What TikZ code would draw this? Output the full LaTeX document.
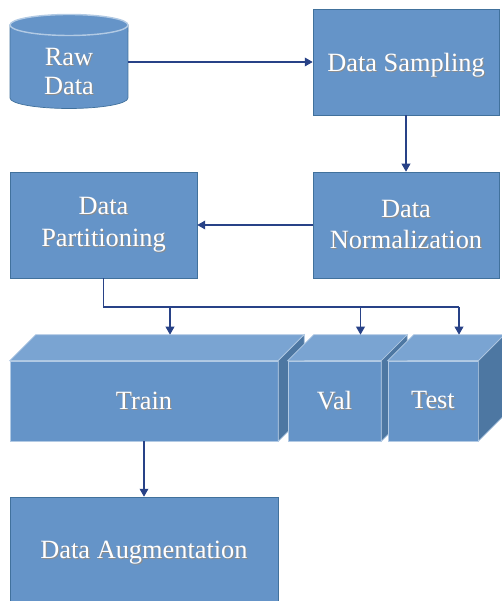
\documentclass[tikz,border=0pt]{standalone}
\usepackage{fontspec}
\setmainfont{Liberation Serif}
\usepackage{tikz}
\usetikzlibrary{arrows.meta, positioning}
\definecolor{boxblue}{RGB}{101,148,200}
\definecolor{boxedge}{RGB}{65,113,156}
\definecolor{topblue}{RGB}{122,164,210}
\definecolor{sideblue}{RGB}{77,119,162}
\definecolor{cubeedge}{RGB}{178,202,228}
\definecolor{arrowblue}{RGB}{40,66,135}
% white label text with a faint drop shadow
\newcommand\halo[1]{\leavevmode\rlap{\kern0.6pt\raisebox{-0.6pt}{\textcolor{black!45}{#1}}}#1}

\begin{document}
\begin{tikzpicture}[x=0.02cm, y=0.02cm,
  box/.style={draw=boxedge, fill=boxblue, text=white, align=center, inner sep=0pt,
              font=\fontsize{15}{18}\selectfont},
  flow/.style={arrowblue, line width=0.6pt, -{Triangle[length=4.5pt, width=5pt]}},
  link/.style={arrowblue, line width=0.6pt}]
  \useasboundingbox (0,0) rectangle (501,601);

  % raw data drum
  \filldraw[fill=boxblue, draw=boxedge] (10,576) -- (10,503)
    arc[start angle=180, end angle=360, x radius=1.18cm, y radius=0.21cm] -- (128,576) -- cycle;
  \filldraw[fill=boxblue, draw=cubeedge, line width=0.8pt] (69,576) ellipse [x radius=1.18cm, y radius=0.21cm];
  \node[box, draw=none, fill=none, minimum width=2.36cm, font=\fontsize{15}{16}\selectfont] (raw) at (69,529) {\halo{Raw}\\\halo{Data}};

  % processing steps
  \node[box, minimum width=3.72cm, minimum height=2.12cm, text depth=0pt] (samp) at (406,539) {\halo{Data Sampling}};
  \node[box, minimum width=3.72cm, minimum height=2.12cm] (norm) at (406,376) {\halo{Data}\\\halo{Normalization}};
  \node[box, minimum width=3.74cm, minimum height=2.12cm] (part) at (103.5,376) {\halo{Data}\\\halo{Partitioning}};

  % split blocks, each with top and side face
  \foreach \n/\t/\cx/\w in {train/Train/144/5.36cm, val/Val/334.5/1.86cm, test/Test/433/1.8cm} {
    \node[box, draw=cubeedge, minimum width=\w, minimum height=1.6cm] (\n) at (\cx,200) {\halo{\t}};
    \filldraw[fill=topblue, draw=cubeedge] (\n.north west) -- ++(26,26)
      -- ([shift={(26,26)}]\n.north east) -- (\n.north east) -- cycle;
    \filldraw[fill=sideblue, draw=cubeedge] (\n.north east) -- ++(26,26)
      -- ([shift={(26,26)}]\n.south east) -- (\n.south east) -- cycle;
    \coordinate (\n-top) at ([shift={(26,26)}]\n.north);
  }

  \node[box, minimum width=5.36cm, minimum height=2.12cm, text depth=0pt] (aug) at (144,51) {\halo{Data Augmentation}};

  % connectors
  \draw[flow] (raw.east |- samp.west) -- (samp.west);
  \draw[flow] (samp.south) -- (norm.north);
  \draw[flow] (norm.west) -- (part.east);
  \coordinate (bus) at (103.5,294);
  \draw[link] (part.south) -- (bus) -- (test-top |- bus);
  \foreach \n in {train, val, test}
    \draw[flow] (\n-top |- bus) -- (\n-top);
  \draw[flow] (train.south) -- (aug.north);
\end{tikzpicture}
\end{document}
